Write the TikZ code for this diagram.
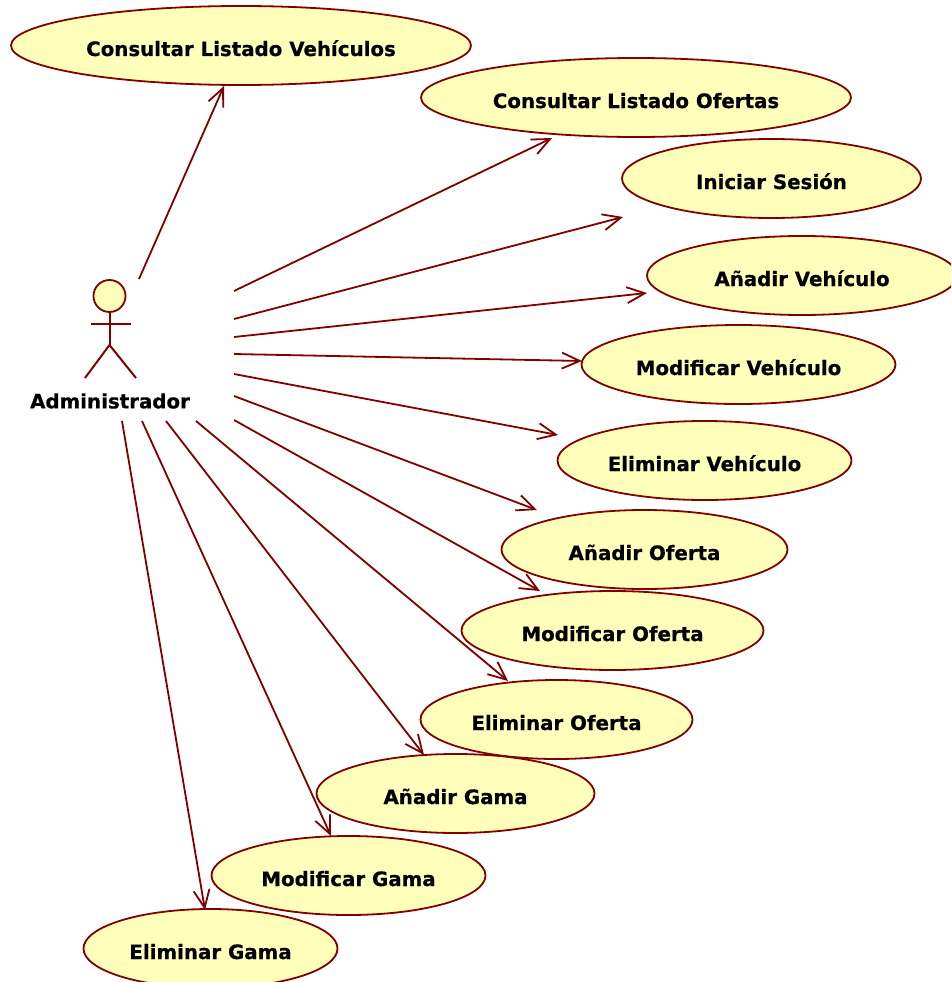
\documentclass[tikz,border=0pt]{standalone}
\usepackage{fontspec}
\setmainfont[BoldFeatures={FakeBold=0.6}]{DejaVu Sans}
\usetikzlibrary{shapes.geometric,arrows.meta}
\definecolor{umlline}{HTML}{800000}
\definecolor{umlfill}{HTML}{FFFFBB}
\tikzset{
  usecase/.style={ellipse,draw=umlline,fill=umlfill,line width=1.8pt,inner sep=0pt,outer sep=0pt,
    minimum height=79pt,text height=21pt,text depth=0pt,font=\fontsize{19.8pt}{22pt}\selectfont\bfseries,text=black},
  assoc/.style={draw=umlline,line width=1.8pt,-{Straight Barb[length=18pt,width=16pt,line width=1.8pt]}},
  stick/.style={draw=umlline,line width=2pt},
  actorhead/.style={circle,draw=umlline,fill=umlfill,line width=1.8pt,minimum size=32pt,inner sep=0pt,outer sep=0pt},
  actorlabel/.style={inner sep=0pt,font=\fontsize{19.8pt}{22pt}\selectfont\bfseries,text=black}
}
\begin{document}
\begin{tikzpicture}[x=1pt,y=-1pt]
\useasboundingbox (0,0) rectangle (951,982);
\clip (0,0) rectangle (951,982);
\fill[white] (0,0) rectangle (951,982);
% use cases
\node[usecase,minimum width=460pt] (cv) at (241,45.5) {Consultar Listado Vehículos};
\node[usecase,minimum width=430pt] (co) at (636,97.5) {Consultar Listado Ofertas};
\node[usecase,minimum width=299pt] (is) at (771.5,178.5) {Iniciar Sesión};
\node[usecase,minimum width=310pt] (av) at (802,275.5) {Añadir Vehículo};
\node[usecase,minimum width=314pt] (mv) at (738.5,364.5) {Modificar Vehículo};
\node[usecase,minimum width=294pt] (ev) at (704.5,460.5) {Eliminar Vehículo};
\node[usecase,minimum width=286pt] (ao) at (644.5,549.5) {Añadir Oferta};
\node[usecase,minimum width=302pt] (mo) at (612.5,630.5) {Modificar Oferta};
\node[usecase,minimum width=272pt] (eo) at (556.5,719.5) {Eliminar Oferta};
\node[usecase,minimum width=278pt] (ag) at (455.5,793.5) {Añadir Gama};
\node[usecase,minimum width=274pt] (mg) at (348.5,875.5) {Modificar Gama};
\node[usecase,minimum width=254pt] (eg) at (210.5,948.5) {Eliminar Gama};
% actor
\node[actorhead] (head) at (109.5,296) {};
\coordinate (hip) at (109.5,345);
\coordinate (handl) at (91,323.5);
\coordinate (handr) at (130.5,323.5);
\coordinate (footl) at (85,378);
\coordinate (footr) at (136,378);
\draw[stick] (head.south) -- (hip);
\draw[stick] (handl) -- (handr);
\draw[stick] (footl) -- (hip) -- (footr);
\node[actorlabel] (adm) at (110,401) {Administrador};
% association ends
\coordinate (s1) at (139,279);   \coordinate (t1) at (224,86);
\coordinate (s2) at (234,291);   \coordinate (t2) at (552,138);
\coordinate (s3) at (234,319);   \coordinate (t3) at (623,217);
\coordinate (s4) at (234,337);   \coordinate (t4) at (647,293);
\coordinate (s5) at (234,354);   \coordinate (t5) at (582,361);
\coordinate (s6) at (234,374);   \coordinate (t6) at (558,435);
\coordinate (s7) at (234,396);   \coordinate (t7) at (537,510);
\coordinate (s8) at (234,420);   \coordinate (t8) at (540,591);
\coordinate (s9) at (196,421);   \coordinate (t9) at (508,681);
\coordinate (s10) at (166,421);  \coordinate (t10) at (424,755);
\coordinate (s11) at (142,421);  \coordinate (t11) at (331,836);
\coordinate (s12) at (122,421);  \coordinate (t12) at (205,910);
\foreach \i in {1,...,12}{\draw[assoc] (s\i) -- (t\i);}
\end{tikzpicture}
\end{document}
